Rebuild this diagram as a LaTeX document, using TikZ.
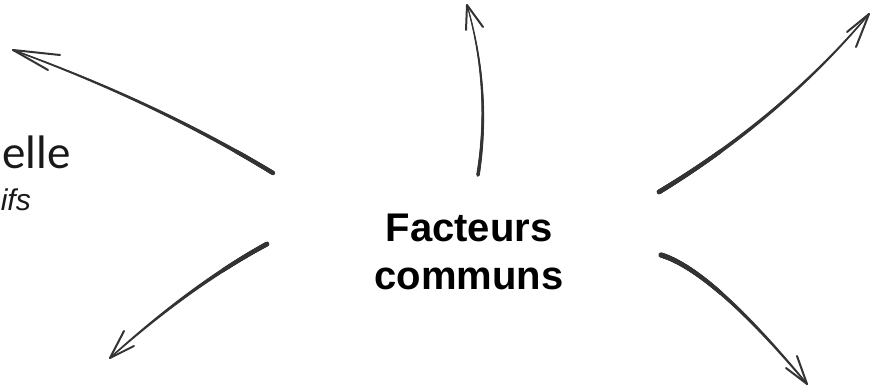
\documentclass[tikz,border=0pt]{standalone}
\usepackage{fontspec}
\usetikzlibrary{decorations.markings}
\newfontfamily\herosfont{Liberation Sans}
\newfontfamily\carlfont{Carlito}
\definecolor{inkc}{gray}{0.2}
\tikzset{
  taper/.style={decorate, decoration={markings,
    mark=between positions 0 and 1 step 0.5pt with {
      \pgfmathsetmacro\tprad{#1*(1-0.65*\pgfkeysvalueof{/pgf/decoration/mark info/distance from start}/\pgfdecoratedpathlength)}
      \fill[inkc] (0,0) circle[radius=\tprad pt];
    }}},
  barb/.style={draw=inkc, line width=2pt, line cap=round},
  title/.style={font=\herosfont\bfseries\fontsize{40}{48}\selectfont, align=center, text=black},
  bigtxt/.style={font=\carlfont\fontsize{47}{52}\selectfont, text=black!90},
  smalltxt/.style={font=\herosfont\itshape\fontsize{30}{34}\selectfont, text=black!90},
}
\begin{document}
\begin{tikzpicture}[x=1pt,y=-1pt]
\clip (0,0) rectangle (871,388);
\useasboundingbox (0,0) rectangle (871,388);
\fill[white] (0,0) rectangle (871,388);

\node[title] (c) at (469,252) {Facteurs\\communs};
\node[bigtxt, anchor=base east, inner sep=0pt] (e) at (71,168) {elle};
\node[smalltxt, anchor=base east, inner sep=0pt] (f) at (31,210) {ifs};

% tails and tips
\coordinate (t1) at (273,173); \coordinate (h1) at (13,50);
\coordinate (t2) at (267,244); \coordinate (h2) at (110,358);
\coordinate (t3) at (478,175); \coordinate (h3) at (467,5);
\coordinate (t4) at (659,192); \coordinate (h4) at (869,14);
\coordinate (t5) at (661,255); \coordinate (h5) at (807,384);

\path[taper=2.2] (t1) .. controls (195.7,126) and (109,85) .. (h1);
\path[taper=2.4] (t2) .. controls (216.7,271.3) and (164.3,309.3) .. (h2);
\path[taper=1.8] (t3) .. controls (487,118.3) and (483.3,61.7) .. (h3);
\path[taper=2.4] (t4) .. controls (741,142.3) and (811,82.7) .. (h4);
\path[taper=2.6] (t5) .. controls (695,265.3) and (743.7,308.3) .. (h5);

\draw[barb] (h1) -- ++(47,5);
\draw[barb] (h1) -- ++(35,20);
\draw[barb] (h2) -- ++(14,-27);
\draw[barb] (h2) -- ++(24,-12);
\draw[barb] (h3) -- ++(-1,25);
\draw[barb] (h3) -- ++(16,22);
\draw[barb] (h4) -- ++(-22,18);
\draw[barb] (h4) -- ++(-13,33);
\draw[barb] (h5) -- ++(-10,-28);
\draw[barb] (h5) -- ++(-21,-16);
\end{tikzpicture}
\end{document}
